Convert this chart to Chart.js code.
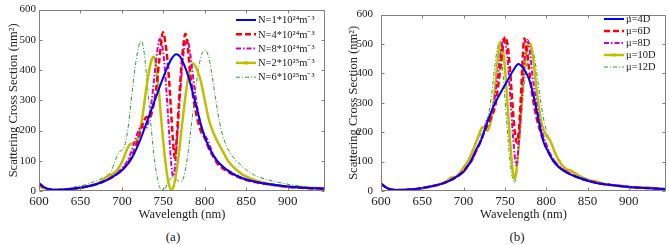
<!DOCTYPE html>
<html><head><meta charset="utf-8">
<script src="https://cdn.jsdelivr.net/npm/chart.js@4/dist/chart.umd.min.js"></script>
<style>
html,body{margin:0;padding:0;background:#fff;}
#wrap{position:relative;width:669px;height:245px;overflow:hidden;background:#fff;}
canvas{position:absolute;top:0;}
.cap{position:absolute;top:229px;font:13px "Liberation Serif",serif;color:#222;transform:translateX(-50%);line-height:16px;}
</style></head><body>
<div id="wrap">
<canvas id="ca" width="335" height="225" style="left:0"></canvas>
<canvas id="cb" width="334" height="225" style="left:335px"></canvas>
<div class="cap" style="left:173px">(a)</div>
<div class="cap" style="left:517px">(b)</div>
</div>
<script>
// ---------- axis ticks ----------
const xTicks = [600, 650, 700, 750, 800, 850, 900];
const yTicks = [0, 100, 200, 300, 400, 500, 600];
const xTitle = 'Wavelength (nm)';
const yTitle = 'Scattering Cross Section (nm²)';

// ---------- panel (a) ----------
const labelsA = ['N=1*10²⁴m⁻³', 'N=4*10²⁴m⁻³', 'N=8*10²⁴m⁻³', 'N=2*10²⁵m⁻³', 'N=6*10²⁵m⁻³'];

const wlA1 = [600,605,610,618,630,645,660,675,685,695,700,705,710,715,720,725,730,735,740,745,750,755,760,765.5,770,775,780,785,790,795,800,805,810,815,820,830,840,850,865,880,900,920,945];
const scsA1 = [26,15,8,4,5,9,16,28,40,58,68,82,100,125,155,190,228,265,302,340,377,410,438,452,445,418,380,330,278,222,178,145,120,100,85,63,48,38,28,22,15,11,8];

const wlA2 = [600,605,610,618,630,645,660,675,685,695,700,705,710,715,720,725,730,733,737,741,745,749.6,753,756,759,761.5,763.7,766,769,772,774.5,776.6,779,782,785,790,795,800,805,810,815,820,830,840,850,865,880,900,920,945];
const scsA2 = [24,13,7,3,5,9,16,28,42,58,70,85,105,135,175,220,245,240,270,330,430,525,480,400,280,170,110,170,300,420,490,520,490,400,330,250,200,175,140,115,92,78,60,47,36,27,21,14,10,7];

const wlA3 = [600,605,610,618,630,645,660,675,685,695,700,705,710,715,720,724,728,732,736,740,743,745.6,748,751,754,757,759.5,761.7,764,767,770,773,776,778.6,781,784,788,792,796,800,804,808,812,820,830,840,850,865,880,900,920,945];
const scsA3 = [26,15,8,4,5,9,16,28,40,60,75,92,120,160,200,215,205,230,300,400,470,503,490,430,320,190,90,48,80,190,310,420,485,500,480,420,330,260,210,185,165,135,110,85,65,50,38,28,21,14,10,7];

const wlA4 = [600,605,610,618,630,645,660,670,678,683,688,693,700,705,709,713,717,721,725,729,733,736,738.3,741,744,747,750,753,756,759.7,762,765,769,773,777,781,784,785.9,790,795,800,805,810,815,820,828,835,845,855,870,885,900,920,945];
const scsA4 = [18,10,5,3,4,8,17,24,38,50,55,65,95,130,152,158,162,190,250,330,400,435,444,420,350,250,160,85,30,3,12,50,130,230,320,390,415,422,405,365,300,235,195,165,140,100,78,55,42,28,20,14,11,8];

const wlA5 = [600,605,610,618,630,640,655,670,680,687,692,697,702,707,712,716,720,723.4,727,731,735,739,743,747,751,755,759,763,767,771,775,779,783,787,791,795,800,805,810,815,820,826,832,840,850,860,875,890,905,925,945];
const scsA5 = [22,12,6,3,6,12,20,35,48,65,100,130,140,200,320,410,475,497,455,340,220,110,40,6,5,25,42,45,35,30,50,110,200,290,380,440,467,440,360,270,200,150,120,95,70,52,38,28,20,14,10];

// ---------- panel (b) ----------
const labelsB = ['μ=4D', 'μ=6D', 'μ=8D', 'μ=10D', 'μ=12D'];

const wlB1 = [600,605,610,618,630,645,660,675,685,695,700,705,708,715,720,724,732,740,748,755,760,766.5,772,777,781,785,789,793,797,803,809,815,825,835,850,865,880,900,920,945];
const scsB1 = [25,14,7,3,4,8,15,26,38,55,65,85,98,140,165,195,260,310,350,385,410,432,418,395,365,320,265,210,165,130,100,82,62,50,35,25,20,14,10,6];

const wlB2 = [600,605,610,618,630,645,660,675,685,695,700,705,710,715,720,725,730,735,739,742,745,748,750.4,753,756,759,762,764.5,767,769.5,771.5,773.4,776,779,782,786,790,795,800,805,810,815,825,835,850,865,880,900,920,945];
const scsB2 = [25,14,7,3,4,8,15,26,38,55,68,85,105,135,165,200,230,260,300,360,430,500,524,500,420,300,200,165,210,330,450,519,490,420,350,280,230,185,150,120,100,83,65,50,36,26,20,14,10,6];

const wlB3 = [600,605,610,618,630,645,660,675,685,695,700,705,710,715,720,725,728,732,736,740,744,748.4,751,754,757,760,763.7,767,770,773,775.5,777.4,780,783,787,791,795,800,805,810,815,825,835,850,865,880,900,920,945];
const scsB3 = [25,14,7,3,4,8,15,26,38,55,68,85,105,135,170,205,240,250,290,360,450,519,495,420,300,180,88,170,300,420,490,514,480,400,320,250,200,160,125,103,85,65,50,36,26,20,14,10,6];

const wlB4 = [600,605,610,618,630,645,660,675,680,685,690,695,700,705,710,715,719,722,725,729,733,737,741,744.4,747,750,753,756,759,761.7,764,767,770,773,776,779.4,782,785,789,793,797,801,805,810,815,820,826,830,835,845,855,860,870,880,890,900,910,920,930,945];
const scsB4 = [25,14,7,3,4,8,15,26,35,46,48,60,80,100,130,165,195,215,218,205,240,320,440,508,490,420,300,180,80,40,70,170,290,400,470,503,490,430,330,250,205,185,170,135,105,85,72,70,60,45,35,33,24,20,18,14,12,12,10,6];

const wlB5 = [600,605,610,618,630,645,660,675,685,695,700,705,710,715,720,725,730,734,738,742.3,745,748,751,754,757,759.5,761.3,763.5,766,769,772,776,779.5,782.7,786,790,794,798,802,806,810,815,820,825,830,840,850,865,880,900,920,945];
const scsB5 = [25,14,7,3,5,9,16,28,40,58,75,95,130,170,190,220,260,330,430,497,470,390,280,170,80,40,28,45,110,210,320,420,475,487,450,370,290,230,190,160,130,110,90,75,65,52,40,28,22,16,12,8];

// ---------- styles ----------
const lineStyles = [
  {color: '#0000ff', width: 2,   dash: []},
  {color: '#ff0000', width: 2.5, dash: [6, 3]},
  {color: '#cc00cc', width: 2,   dash: [5, 2, 1.5, 2]},
  {color: '#bfbf00', width: 2.5, dash: [], marker: true},
  {color: '#2e9e2e', width: 1,   dash: [4, 2, 1, 2]}
];
const FONT = '"Liberation Serif", "Times New Roman", serif';

const framePlugin = {
  id: 'framePlugin',
  afterDatasetsDraw(chart) {
    const {ctx, chartArea: a, scales: {x, y}} = chart;
    ctx.save();
    ctx.strokeStyle = '#808080';
    ctx.lineWidth = 1;
    ctx.setLineDash([]);
    const L = Math.round(a.left) + 0.5, R = Math.round(a.right) - 0.5;
    const T = Math.round(a.top) + 0.5, B = Math.round(a.bottom) - 0.5;
    ctx.beginPath();
    ctx.rect(L, T, R - L, B - T);
    const tl = 3;
    x.ticks.forEach(t => {
      const px = Math.round(x.getPixelForValue(t.value)) + 0.5;
      ctx.moveTo(px, B); ctx.lineTo(px, B - tl);
      ctx.moveTo(px, T); ctx.lineTo(px, T + tl);
    });
    y.ticks.forEach(t => {
      const py = Math.round(y.getPixelForValue(t.value)) + 0.5;
      ctx.moveTo(L, py); ctx.lineTo(L + tl, py);
      ctx.moveTo(R, py); ctx.lineTo(R - tl, py);
    });
    ctx.stroke();
    ctx.restore();
  }
};

const legendPlugin = {
  id: 'legendPlugin',
  afterDraw(chart, args, o) {
    const ctx = chart.ctx;
    ctx.save();
    ctx.font = o.font;
    ctx.textBaseline = 'middle';
    chart.data.datasets.forEach((ds, i) => {
      const yy = o.y + i * o.dy;
      ctx.save();
      ctx.strokeStyle = ds.borderColor;
      ctx.lineWidth = ds.borderWidth;
      ctx.setLineDash(ds.borderDash || []);
      ctx.beginPath();
      ctx.moveTo(o.x, yy); ctx.lineTo(o.x + o.len, yy);
      ctx.stroke();
      if (lineStyles[i].marker) {
        ctx.setLineDash([]);
        ctx.fillStyle = ds.borderColor;
        ctx.beginPath();
        ctx.arc(o.x + o.len / 2, yy, 1.8, 0, Math.PI * 2);
        ctx.fill();
      }
      ctx.restore();
      ctx.fillStyle = '#1a1a1a';
      ctx.fillText(ds.label, o.x + o.len + 2, yy + 0.5);
    });
    ctx.restore();
  }
};

function makeChart(id, wls, vals, labels, lay) {
  const datasets = wls.map((wl, i) => ({
    label: labels[i],
    data: wl.map((x, k) => ({x: x, y: vals[i][k]})),
    borderColor: lineStyles[i].color,
    borderWidth: lineStyles[i].width,
    borderDash: lineStyles[i].dash,
    pointRadius: 0,
    fill: false,
    cubicInterpolationMode: 'monotone'
  }));
  return new Chart(document.getElementById(id), {
    type: 'line',
    data: {datasets: datasets},
    plugins: [framePlugin, legendPlugin],
    options: {
      responsive: false,
      animation: false,
      devicePixelRatio: 1,
      layout: {padding: {left: 0, right: lay.right, top: 5, bottom: 0}},
      plugins: {
        legend: {display: false},
        tooltip: {enabled: false},
        legendPlugin: lay.legend
      },
      scales: {
        x: {
          type: 'linear',
          min: 600, max: 945,
          afterBuildTicks: s => { s.ticks = xTicks.map(v => ({value: v})); },
          afterFit: s => { s.height = 34; },
          grid: {display: false, drawTicks: false},
          border: {display: false},
          ticks: {color: '#222', padding: 3, maxRotation: 0, font: {family: FONT, size: 13}},
          title: {display: true, text: xTitle, color: '#222', padding: {top: 0, bottom: 3}, font: {family: FONT, size: 12.5}}
        },
        y: {
          type: 'linear',
          min: 0, max: 600,
          afterBuildTicks: s => { s.ticks = yTicks.map(v => ({value: v})); },
          afterFit: s => { s.width = lay.yw; },
          grid: {display: false, drawTicks: false},
          border: {display: false},
          ticks: {color: '#222', padding: lay.ypad, font: {family: FONT, size: 11}},
          title: {display: true, text: yTitle, color: '#222', padding: {top: lay.ytp, bottom: 0}, font: {family: FONT, size: 12.5}}
        }
      }
    }
  });
}

makeChart('ca', [wlA1, wlA2, wlA3, wlA4, wlA5], [scsA1, scsA2, scsA3, scsA4, scsA5], labelsA,
  {right: 10, yw: 39, ypad: 3, ytp: 6, legend: {x: 236, y: 20, dy: 14.3, len: 20, font: '10.5px ' + FONT}});
makeChart('cb', [wlB1, wlB2, wlB3, wlB4, wlB5], [scsB1, scsB2, scsB3, scsB4, scsB5], labelsB,
  {right: 3, yw: 46, ypad: 8, ytp: 11, legend: {x: 269, y: 19, dy: 12, len: 20, font: '10.5px ' + FONT}});
</script>
</body></html>
